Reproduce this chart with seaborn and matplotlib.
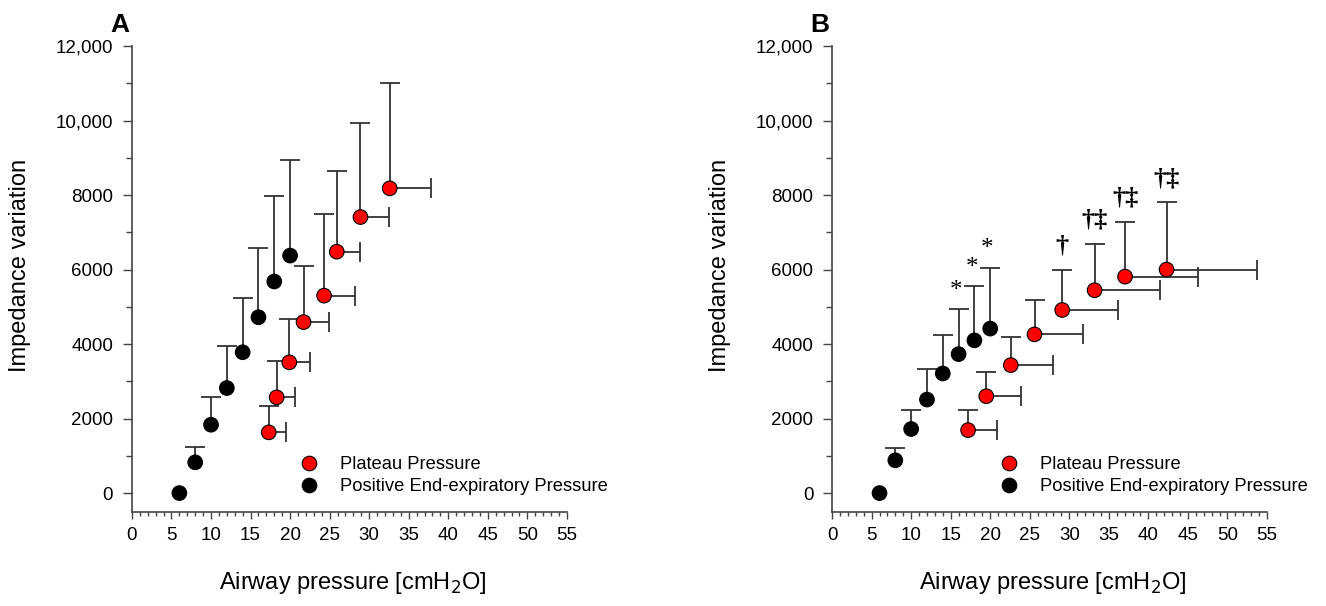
import matplotlib
matplotlib.use('Agg')
import matplotlib.pyplot as plt
from matplotlib.ticker import MultipleLocator, FuncFormatter
import numpy as np
import pandas as pd
import seaborn as sns

sns.set_theme(style='ticks')
plt.rcParams['font.family'] = ['Liberation Sans', 'DejaVu Sans']
plt.rcParams['text.color'] = 'black'
plt.rcParams['axes.labelcolor'] = 'black'

# Panel A - raw values
peep_x = [6, 8, 10, 12, 14, 16, 18, 20]
peep_y_a = [0, 825, 1835, 2820, 3780, 4720, 5680, 6375]
peep_hi_a = [np.nan, 1230, 2590, 3950, 5245, 6570, 7970, 8940]
plat_x_a = [17.3, 18.3, 19.9, 21.7, 24.3, 25.9, 28.9, 32.6]
plat_y_a = [1630, 2570, 3510, 4590, 5300, 6480, 7410, 8180]
plat_xhi_a = [19.5, 20.6, 22.5, 24.9, 28.2, 28.8, 32.5, 37.8]
plat_yhi_a = [2330, 3555, 4675, 6090, 7480, 8645, 9940, 11015]

# Panel B - normalised values
peep_y_b = [0, 880, 1720, 2510, 3210, 3730, 4100, 4415]
peep_hi_b = [np.nan, 1200, 2235, 3325, 4240, 4935, 5560, 6055]
plat_x_b = [17.2, 19.5, 22.6, 25.6, 29.1, 33.2, 37.05, 42.3]
plat_y_b = [1690, 2600, 3435, 4260, 4915, 5445, 5810, 6000]
plat_xhi_b = [20.9, 23.9, 28.0, 31.7, 36.2, 41.5, 46.3, 53.7]
plat_yhi_b = [2240, 3255, 4190, 5185, 5990, 6690, 7290, 7810]
peep_marks_b = ['', '', '', '', '', '*', '*', '*']
plat_marks_b = ['', '', '', '', '\u2020', '\u2020\u2021', '\u2020\u2021', '\u2020\u2021']

PLATEAU = 'Plateau Pressure'
PEEP = 'Positive End-expiratory Pressure'
ERR_COLOR = '#333333'
AX_COLOR = '#444444'
SERIF = ['Liberation Serif', 'DejaVu Serif']


def y_fmt(v, pos):
    v = int(round(v))
    return f'{v:,}' if v >= 10000 else f'{v}'


def one_sided_errorbar(ax, x, y, yerr, xerr=None, **kw):
    # matplotlib always draws both caps; hide the ones sitting on the points
    zeros = np.zeros(len(y))
    cont = ax.errorbar(x, y, yerr=[zeros, yerr],
                       xerr=None if xerr is None else [zeros, xerr], **kw)
    for cap in cont.lines[1]:
        cx = np.asarray(cap.get_xdata(), float)
        cy = np.asarray(cap.get_ydata(), float)
        if np.allclose(cx, x) and np.allclose(cy, y):
            cap.set_visible(False)


def draw_panel(ax, letter, peep_y, peep_hi, plat_x, plat_y, plat_xhi, plat_yhi,
               peep_marks=None, plat_marks=None):
    peep_y = np.array(peep_y, float)
    plat_x = np.array(plat_x, float)
    plat_y = np.array(plat_y, float)
    peep_err = np.array(peep_hi, float) - peep_y
    plat_yerr = np.array(plat_yhi, float) - plat_y
    plat_xerr = np.array(plat_xhi, float) - plat_x

    ebkw = dict(fmt='none', ecolor=ERR_COLOR, elinewidth=1.3, capsize=7.5,
                capthick=1.3, zorder=2)
    one_sided_errorbar(ax, np.array(peep_x, float), peep_y, peep_err, **ebkw)
    one_sided_errorbar(ax, plat_x, plat_y, plat_yerr, plat_xerr, **ebkw)

    df = pd.DataFrame({
        'x': list(plat_x) + list(peep_x),
        'y': list(plat_y) + list(peep_y),
        'kind': [PLATEAU] * len(plat_x) + [PEEP] * len(peep_x),
    })
    sns.scatterplot(data=df, x='x', y='y', hue='kind',
                    palette={PLATEAU: '#ff0000', PEEP: '#000000'},
                    s=110, edgecolor='#000000', linewidth=0.8, zorder=3,
                    ax=ax, legend=True)

    if peep_marks is not None:
        for x, top, m in zip(peep_x, peep_hi, peep_marks):
            if m:
                ax.annotate(m, xy=(x, top), xytext=(-2, 13), textcoords='offset points',
                            ha='center', va='center', fontsize=18, family=SERIF)
    if plat_marks is not None:
        for x, top, m in zip(plat_x, plat_yhi, plat_marks):
            if m:
                ax.annotate(m, xy=(x, top), xytext=(0, 17), textcoords='offset points',
                            ha='center', va='center', fontsize=19, family=SERIF,
                            fontweight='bold')

    ax.set_xlim(0, 55)
    ax.set_ylim(-510, 12000)
    ax.xaxis.set_major_locator(MultipleLocator(5))
    ax.xaxis.set_minor_locator(MultipleLocator(1))
    ax.yaxis.set_major_locator(MultipleLocator(2000))
    ax.yaxis.set_minor_locator(MultipleLocator(1000))
    ax.yaxis.set_major_formatter(FuncFormatter(y_fmt))
    sns.despine(ax=ax)
    for side in ('left', 'bottom'):
        ax.spines[side].set_color(AX_COLOR)
        ax.spines[side].set_linewidth(1.2)
    ax.tick_params(axis='both', which='both', colors=AX_COLOR, labelcolor='black',
                   direction='out', width=1.0, labelsize=13.5)
    ax.tick_params(axis='y', which='major', length=6.5, pad=7)
    ax.tick_params(axis='y', which='minor', length=4.5)
    ax.tick_params(axis='x', which='major', length=5, pad=6)
    ax.tick_params(axis='x', which='minor', length=3.2)

    ax.set_xlabel('Airway pressure [cmH$_2$O]', fontsize=17)
    ax.set_ylabel('Impedance variation', fontsize=17)
    ax.xaxis.set_label_coords(0.508, -0.125)
    ax.yaxis.set_label_coords(-0.232, 0.53)

    ax.legend(loc='center left', bbox_to_anchor=(0.385, 0.078), frameon=False,
              fontsize=13.2, handlelength=1.0, handletextpad=1.2, labelspacing=0.25,
              borderpad=0, borderaxespad=0, markerscale=1.0)

    ax.text(-0.028, 1.02, letter, transform=ax.transAxes, ha='center', va='bottom',
            fontsize=19, fontweight='bold')


fig = plt.figure(figsize=(13.26, 6.06), dpi=100)
ax_a = fig.add_axes([0.0995, 0.155, 0.328, 0.769])
ax_b = fig.add_axes([0.6275, 0.155, 0.328, 0.769])

draw_panel(ax_a, 'A', peep_y_a, peep_hi_a, plat_x_a, plat_y_a, plat_xhi_a, plat_yhi_a)
draw_panel(ax_b, 'B', peep_y_b, peep_hi_b, plat_x_b, plat_y_b, plat_xhi_b, plat_yhi_b,
           peep_marks_b, plat_marks_b)

fig.savefig('out.png', dpi=100)
